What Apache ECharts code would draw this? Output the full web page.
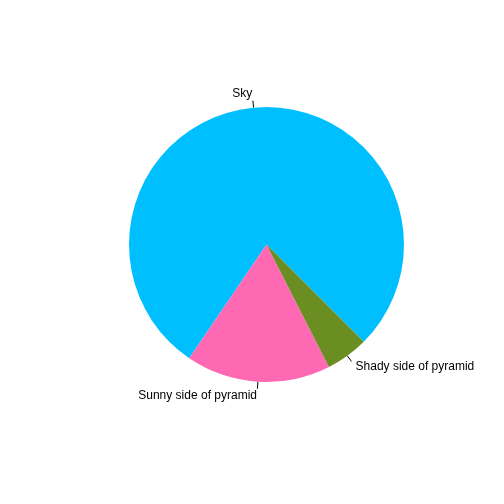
<!DOCTYPE html>
<html>
<head>
  <meta charset="utf-8">
  <script src="https://cdn.jsdelivr.net/npm/echarts@6/dist/echarts.min.js"></script>
  <style>
    body { margin: 0; padding: 0; background: #fff; }
    #main { width: 504px; height: 504px; }
  </style>
</head>
<body>
<div id="main"></div>
<script>
  // slice data
  var labels = ['Sky', 'Sunny side of pyramid', 'Shady side of pyramid'];
  var values = [78, 17, 5];
  var colors = ['#00BFFF', '#FF69B4', '#6B8E23'];

  var chart = echarts.init(document.getElementById('main'));
  var option = {
    animation: false,
    backgroundColor: '#ffffff',
    series: [{
      type: 'pie',
      center: [266.5, 244.5],
      radius: [0, 137.5],
      startAngle: 315,
      clockwise: false,
      avoidLabelOverlap: false,
      data: labels.map(function (name, i) {
        return { name: name, value: values[i], itemStyle: { color: colors[i] } };
      }),
      itemStyle: { borderWidth: 0 },
      label: {
        show: true,
        position: 'outside',
        formatter: '{b}',
        color: '#000',
        fontSize: 12,
        fontFamily: 'Liberation Sans, Arial, sans-serif'
      },
      labelLine: {
        show: true,
        length: 14,
        length2: 0,
        smooth: false,
        lineStyle: { color: '#000', width: 1 }
      },
      labelLayout: function (params) {
        // base R pie style: text anchored at the line end, line only half way
        var pts = params.labelLinePoints;
        if (!pts) return {};
        var p0 = pts[0], p1 = pts[pts.length - 1];
        var mid = [(p0[0] + p1[0]) / 2, (p0[1] + p1[1]) / 2];
        return {
          x: p1[0],
          y: p1[1],
          align: p1[0] < 266.5 ? 'right' : 'left',
          verticalAlign: 'middle',
          labelLinePoints: [p0, mid, mid]
        };
      },
      emphasis: { disabled: true }
    }]
  };
  chart.setOption(option);
</script>
</body>
</html>
